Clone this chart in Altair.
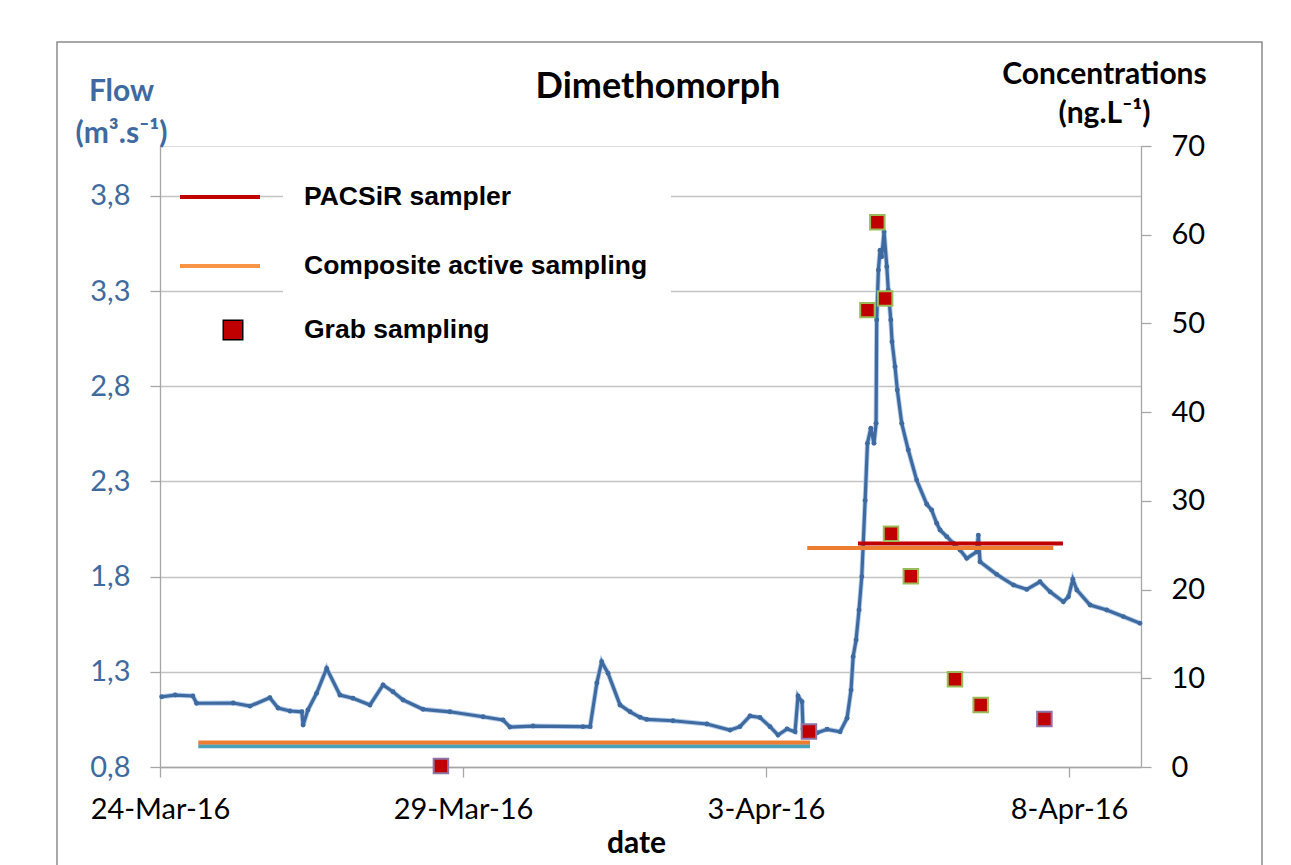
import altair as alt
import pandas as pd

# ---------------- data ----------------
flow_time = [
    "2016-03-24T00:40", "2016-03-24T06:00", "2016-03-24T13:00", "2016-03-24T14:30",
    "2016-03-25T05:00", "2016-03-25T11:40", "2016-03-25T19:30", "2016-03-25T22:45",
    "2016-03-26T03:30", "2016-03-26T08:10", "2016-03-26T08:40", "2016-03-26T10:35",
    "2016-03-26T14:00", "2016-03-26T18:00", "2016-03-26T23:15", "2016-03-27T04:25",
    "2016-03-27T11:10", "2016-03-27T16:20", "2016-03-27T20:15", "2016-03-28T00:15",
    "2016-03-28T08:10", "2016-03-28T18:50", "2016-03-29T07:55", "2016-03-29T15:50",
    "2016-03-29T18:35", "2016-03-30T03:45", "2016-03-30T23:30", "2016-03-31T02:20",
    "2016-03-31T05:00", "2016-03-31T06:55", "2016-03-31T09:25", "2016-03-31T14:10",
    "2016-03-31T18:10", "2016-03-31T22:05", "2016-04-01T00:45", "2016-04-01T11:10",
    "2016-04-02T00:35", "2016-04-02T09:45", "2016-04-02T13:40", "2016-04-02T17:40",
    "2016-04-02T21:35", "2016-04-03T01:35", "2016-04-03T04:45", "2016-04-03T08:20",
    "2016-04-03T11:30", "2016-04-03T12:40", "2016-04-03T14:15", "2016-04-03T14:40",
    "2016-04-03T20:15", "2016-04-04T00:10", "2016-04-04T05:20", "2016-04-04T08:05",
    "2016-04-04T09:40", "2016-04-04T10:30", "2016-04-04T11:40", "2016-04-04T12:50",
    "2016-04-04T13:55", "2016-04-04T15:15", "2016-04-04T16:10", "2016-04-04T17:30",
    "2016-04-04T18:45", "2016-04-04T19:35", "2016-04-04T19:50", "2016-04-04T20:30",
    "2016-04-04T21:10", "2016-04-04T21:50", "2016-04-04T22:45", "2016-04-04T23:50",
    "2016-04-05T00:25", "2016-04-05T01:25", "2016-04-05T01:55", "2016-04-05T03:05",
    "2016-04-05T04:00", "2016-04-05T05:45", "2016-04-05T08:20", "2016-04-05T11:40",
    "2016-04-05T15:40", "2016-04-05T17:35", "2016-04-05T19:35", "2016-04-05T20:55",
    "2016-04-05T23:35", "2016-04-06T02:10", "2016-04-06T04:50", "2016-04-06T07:30",
    "2016-04-06T11:25", "2016-04-06T12:05", "2016-04-06T12:45", "2016-04-06T19:20",
    "2016-04-07T02:00", "2016-04-07T07:15", "2016-04-07T12:30", "2016-04-07T16:30",
    "2016-04-07T21:45", "2016-04-07T23:45", "2016-04-08T01:30", "2016-04-08T03:05",
    "2016-04-08T08:20", "2016-04-08T14:55", "2016-04-08T21:30", "2016-04-09T04:05",
]
flow_value = [
    1.169, 1.178, 1.173, 1.135,
    1.136, 1.120, 1.164, 1.110,
    1.094, 1.090, 1.020, 1.100,
    1.187, 1.318, 1.178, 1.161,
    1.126, 1.231, 1.195, 1.152,
    1.103, 1.090, 1.064, 1.047,
    1.010, 1.015, 1.012, 1.012,
    1.241, 1.353, 1.293, 1.126,
    1.090, 1.061, 1.050, 1.043,
    1.026, 0.994, 1.012, 1.068,
    1.060, 1.012, 0.968, 1.000,
    0.985, 1.173, 1.143, 1.000,
    0.980, 0.998, 0.985, 1.056,
    1.204, 1.379, 1.467, 1.625,
    1.800, 2.200, 2.500, 2.580,
    2.500, 2.605, 3.148, 3.410,
    3.515, 3.480, 3.612, 3.428,
    3.305, 3.148, 3.034, 2.903,
    2.780, 2.605, 2.465, 2.307,
    2.180, 2.150, 2.080, 2.045,
    2.010, 1.975, 1.940, 1.896,
    1.930, 2.018, 1.878, 1.812,
    1.756, 1.733, 1.773, 1.720,
    1.668, 1.694, 1.786, 1.730,
    1.651, 1.625, 1.590, 1.555,
]

grab_time = ["2016-03-28T15:15", "2016-04-03T17:00", "2016-04-04T16:10", "2016-04-04T20:05",
             "2016-04-04T23:10", "2016-04-05T01:30", "2016-04-05T09:20", "2016-04-06T02:50",
             "2016-04-06T13:00", "2016-04-07T14:15"]
grab_conc = [0.1, 4.0, 51.5, 61.4, 52.8, 26.3, 21.5, 9.9, 7.0, 5.4]
grab_batch = ["A", "A", "B", "B", "B", "B", "B", "B", "B", "A"]

pacsir_start = ["2016-04-04T12:25"]
pacsir_end = ["2016-04-07T21:35"]
pacsir_conc = [25.2]

composite_start = ["2016-03-24T15:10", "2016-04-03T16:20"]
composite_end = ["2016-04-03T17:25", "2016-04-07T17:45"]
composite_conc = [2.75, 24.7]

extra_start = ["2016-03-24T15:10"]
extra_end = ["2016-04-03T17:25"]
extra_conc = [2.35]

flow_ticks = [0.8, 1.3, 1.8, 2.3, 2.8, 3.3, 3.8]
conc_ticks = [0, 10, 20, 30, 40, 50, 60, 70]
date_ticks = [(2016, 3, 24), (2016, 3, 29), (2016, 4, 3), (2016, 4, 8)]

legend_labels = ["PACSiR sampler", "Composite active sampling", "Grab sampling"]

# ---------------- styling ----------------
FONT = "Lato"
BLUE = "#3e6aa0"
LIGHT_BLUE = "#b4cdec"
RED = "#c00000"
ORANGE = "#ed7d31"
TEAL = "#4aa3b8"
GRID = "#c4c4c4"
AXIS = "#a6a6a6"

W, H = 981, 621

x_scale = alt.Scale(
    domain=[alt.DateTime(year=2016, month=3, date=24, hours=0),
            alt.DateTime(year=2016, month=4, date=9, hours=4, minutes=30)]
)
x_axis = alt.Axis(
    values=[alt.DateTime(year=y, month=m, date=d) for (y, m, d) in date_ticks],
    format="%-d-%b-%y", formatType="time",
    title="date", titleFont=FONT, titleFontSize=30, titleFontWeight="bold", titleColor="black",
    titleX=476, titleY=76, titleBaseline="middle", titleAlign="center",
    labelFont=FONT, labelFontSize=29, labelColor="black", labelPadding=18,
    labelFlush=False, labelOverlap=False,
    tickSize=10, tickColor=AXIS, tickWidth=1.3, domainColor=AXIS, domainWidth=1.3,
    grid=False,
)

flow_scale = alt.Scale(domain=[0.8, 4.062], nice=False, zero=False)
flow_axis = alt.Axis(
    orient="left", values=flow_ticks,
    labelExpr="replace(format(datum.value, '.1f'), '.', ',')",
    title=["Flow", "(m³.s⁻¹)"], titleAngle=0, titleX=-39, titleY=-70,
    titleAlign="center", titleBaseline="top", titleLineHeight=42,
    titleFont=FONT, titleFontSize=30, titleFontWeight="bold", titleColor=BLUE,
    labelFont=FONT, labelFontSize=29, labelColor=BLUE, labelPadding=20,
    tickSize=10, tickColor=AXIS, tickWidth=1.3, domainColor=AXIS, domainWidth=1.3,
    grid=True, gridColor=GRID, gridWidth=1.4,
)

conc_scale = alt.Scale(domain=[0, 70], nice=False)
conc_axis = alt.Axis(
    orient="right", values=conc_ticks,
    title=["Concentrations", "(ng.L⁻¹)"], titleAngle=0, titleX=-37, titleY=-87,
    titleAlign="center", titleBaseline="top", titleLineHeight=39,
    titleFont=FONT, titleFontSize=30, titleFontWeight="bold", titleColor="black",
    labelFont=FONT, labelFontSize=29, labelColor="black", labelPadding=20,
    tickSize=10, tickColor=AXIS, tickWidth=1.3, domainColor=AXIS, domainWidth=1.3,
    grid=False,
)

# ---------------- flow (left axis) ----------------
flow_df = pd.DataFrame({"time": flow_time, "flow": flow_value})
fbase = alt.Chart(flow_df).encode(
    x=alt.X("time:T", scale=x_scale, axis=x_axis),
    y=alt.Y("flow:Q", scale=flow_scale, axis=flow_axis),
)
flow_chart = alt.layer(
    fbase.mark_line(color=LIGHT_BLUE, strokeWidth=5),
    fbase.mark_line(color=BLUE, strokeWidth=3.2),
    fbase.mark_circle(size=24, color=BLUE, opacity=1),
)

# ---------------- concentrations (right axis) ----------------
def seg_df(s, e, c):
    return pd.DataFrame({"start": s, "end": e, "conc": c})

def rule_layer(df, color):
    return alt.Chart(df).mark_rule(color=color, strokeWidth=4).encode(
        x=alt.X("start:T", scale=x_scale, axis=x_axis),
        x2="end:T",
        y=alt.Y("conc:Q", scale=conc_scale, axis=conc_axis),
    )

grab_df = pd.DataFrame({"time": grab_time, "conc": grab_conc, "batch": grab_batch})
grab_layer = alt.Chart(grab_df).mark_square(size=210, fill=RED, fillOpacity=1, strokeWidth=2).encode(
    x=alt.X("time:T", scale=x_scale, axis=x_axis),
    y=alt.Y("conc:Q", scale=conc_scale, axis=conc_axis),
    stroke=alt.Stroke("batch:N", scale=alt.Scale(domain=["A", "B"], range=["#8c76a8", "#9bbb59"]),
                      legend=None),
)

conc_chart = alt.layer(
    rule_layer(seg_df(extra_start, extra_end, extra_conc), TEAL),
    rule_layer(seg_df(composite_start, composite_end, composite_conc), ORANGE),
    rule_layer(seg_df(pacsir_start, pacsir_end, pacsir_conc), RED),
    grab_layer,
)

# ---------------- decorations: title, legend, frame ----------------
one = pd.DataFrame({"k": [0]})

frame = alt.Chart(one).mark_rect(filled=False, stroke="#8c8c8c", strokeWidth=1.5, clip=False).encode(
    x=alt.value(-103), x2=alt.value(1102), y=alt.value(-104), y2=alt.value(740)
)
title = alt.Chart(one).mark_text(
    text="Dimethomorph", font=FONT, fontSize=36, fontWeight="bold", color="black",
    align="center", baseline="middle"
).encode(x=alt.value(498), y=alt.value(-59))

legend_box = alt.Chart(one).mark_rect(fill="white", stroke=None).encode(
    x=alt.value(123), x2=alt.value(511), y=alt.value(22), y2=alt.value(206)
)
leg_red = alt.Chart(one).mark_rule(color=RED, strokeWidth=4).encode(
    x=alt.value(20), x2=alt.value(100), y=alt.value(51)
)
leg_orange = alt.Chart(one).mark_rule(color="#f79646", strokeWidth=4).encode(
    x=alt.value(20), x2=alt.value(100), y=alt.value(120)
)
leg_square = alt.Chart(one).mark_square(size=380, fill=RED, fillOpacity=1, stroke="black", strokeWidth=1.5).encode(
    x=alt.value(73), y=alt.value(184)
)
leg_texts = [
    alt.Chart(one).mark_text(
        text=lab, font="Liberation Sans", fontSize=26.5, fontWeight="bold", color="black",
        align="left", baseline="middle"
    ).encode(x=alt.value(144), y=alt.value(yy))
    for lab, yy in zip(legend_labels, [51, 120, 184])
]

chart = alt.layer(
    flow_chart, conc_chart, legend_box, leg_red, leg_orange, leg_square, *leg_texts, title, frame
).resolve_scale(y="independent").properties(
    width=W, height=H,
    autosize=alt.AutoSizeParams(type="none"),
    padding={"left": 152, "top": 138, "right": 142, "bottom": 98},
).configure_view(stroke=None).configure(background="white")

chart.save("out.html", embed_options={"renderer": "svg", "actions": False})
